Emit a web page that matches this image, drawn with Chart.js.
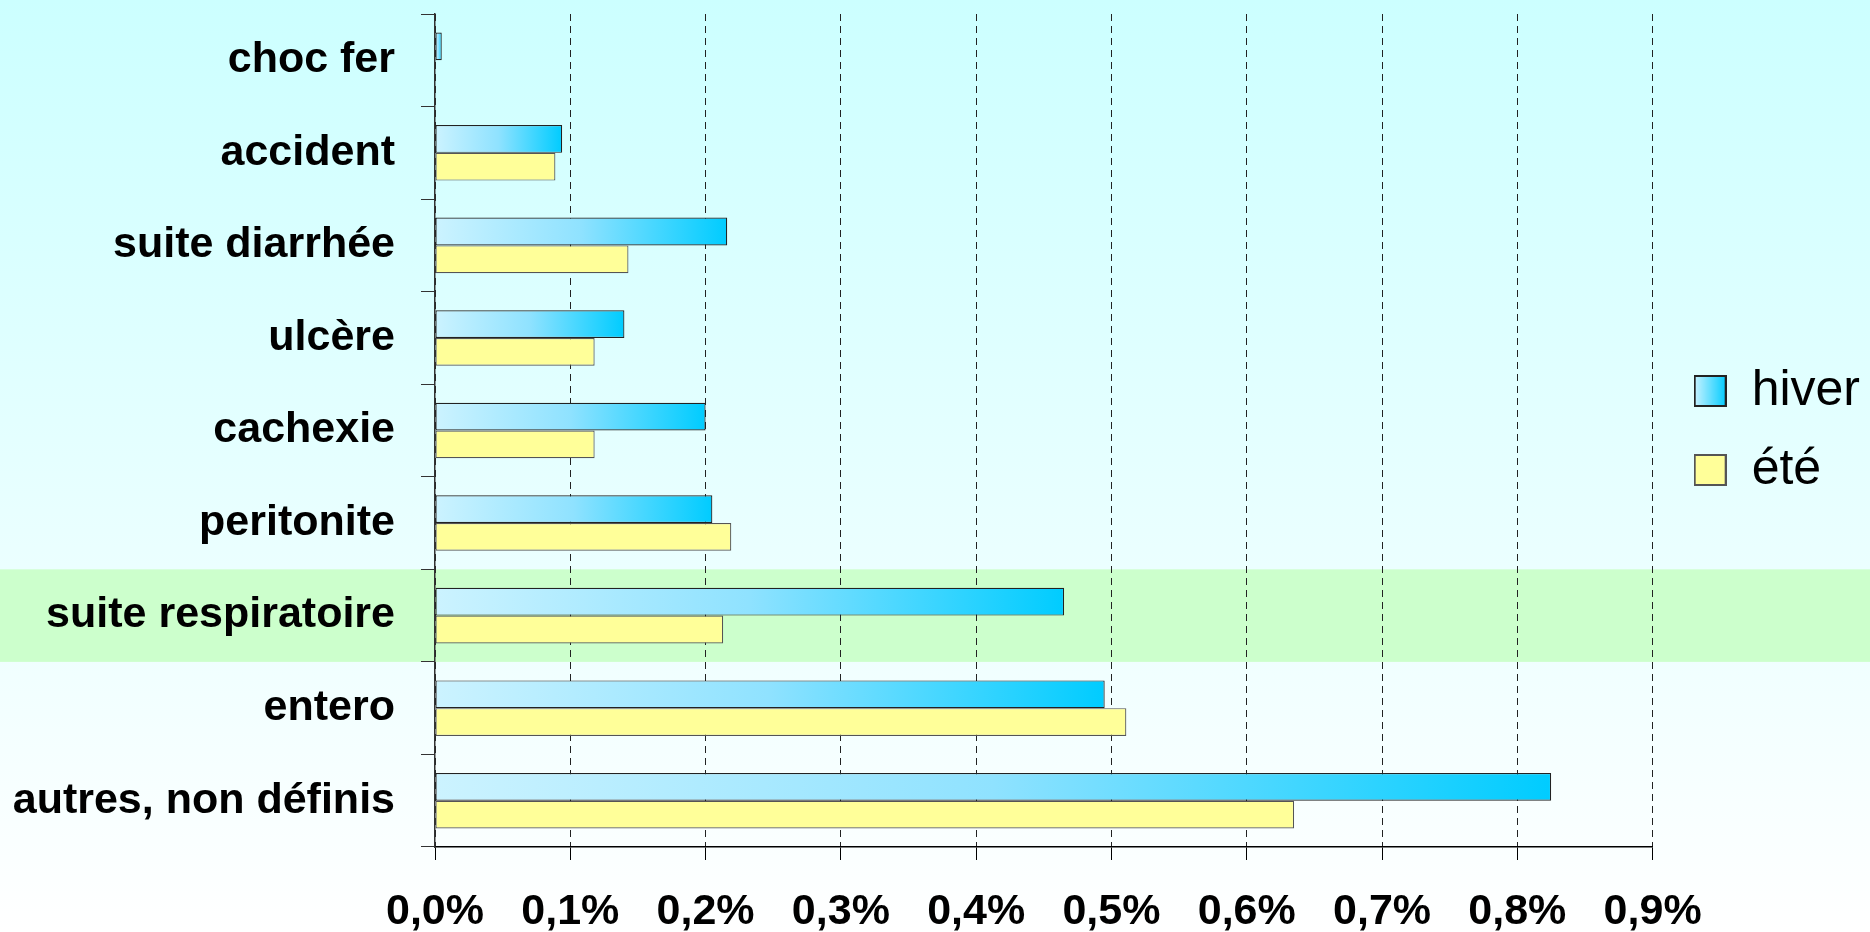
<!DOCTYPE html>
<html lang="fr">
<head>
  <meta charset="UTF-8">
  <script src="https://cdn.jsdelivr.net/npm/chart.js"></script>
  <title>hiver / été</title>
  <style>
    html, body { margin: 0; padding: 0; }
    .wrap { width: 1870px; height: 932px; position: relative; }
  </style>
</head>
<body>

<div class="wrap">
  <canvas id="barChart"></canvas>
</div>

<script>
  // données (en %)
  const categories = ['choc fer', 'accident', 'suite diarrhée', 'ulcère', 'cachexie',
                      'peritonite', 'suite respiratoire', 'entero', 'autres, non définis'];
  const hiver = [0.005, 0.094, 0.216, 0.140, 0.200, 0.205, 0.465, 0.495, 0.825];
  const ete   = [0.000, 0.089, 0.143, 0.118, 0.118, 0.219, 0.213, 0.511, 0.635];
  const xTickLabels = ['0,0%', '0,1%', '0,2%', '0,3%', '0,4%', '0,5%', '0,6%', '0,7%', '0,8%', '0,9%'];
  const highlighted = 'suite respiratoire';

  const FONT = "'Liberation Sans', Arial, sans-serif";

  function hiverFill(ctx) {
    const chart = ctx.chart;
    const x = chart.scales && chart.scales.x;
    if (ctx.type !== 'data' || !x) return '#66DDFF';
    const x0 = x.getPixelForValue(0);
    const x1 = x.getPixelForValue(ctx.parsed.x);
    if (!isFinite(x0) || !isFinite(x1)) return '#66DDFF';
    const g = chart.ctx.createLinearGradient(x0, 0, Math.max(x1, x0 + 1), 0);
    g.addColorStop(0, '#CCF3FF');
    g.addColorStop(0.5, '#8FE2FF');
    g.addColorStop(1, '#00CCFF');
    return g;
  }

  // petites images pour les carrés de la légende
  function legendSquare(fill, stroke) {
    const c = document.createElement('canvas');
    c.width = 33; c.height = 32;
    const k = c.getContext('2d');
    if (fill === 'grad') {
      const g = k.createLinearGradient(0, 0, 33, 0);
      g.addColorStop(0, '#CCF3FF');
      g.addColorStop(1, '#00CCFF');
      k.fillStyle = g;
    } else {
      k.fillStyle = fill;
    }
    k.fillRect(0, 0, 33, 32);
    k.strokeStyle = stroke;
    k.lineWidth = 2;
    k.strokeRect(1, 1, 31, 30);
    return c;
  }
  const legendImages = [legendSquare('grad', '#222'), legendSquare('#FFFF99', '#555')];

  const fondPlugin = {
    id: 'fond',
    beforeDraw(chart) {
      const { ctx, width, height } = chart;
      const g = ctx.createLinearGradient(0, 0, 0, height);
      g.addColorStop(0, '#CCFFFF');
      g.addColorStop(1, '#FFFFFF');
      ctx.save();
      ctx.fillStyle = g;
      ctx.fillRect(0, 0, width, height);
      const y = chart.scales.y;
      const i = categories.indexOf(highlighted);
      const half = (y.getPixelForValue(1) - y.getPixelForValue(0)) / 2;
      const yc = y.getPixelForValue(i);
      ctx.fillStyle = '#CCFFCC';
      ctx.fillRect(0, yc - half, width, half * 2);
      ctx.restore();
    }
  };

  const chart = new Chart(document.getElementById('barChart'), {
    type: 'bar',
    data: {
      labels: categories,
      datasets: [{
        label: 'hiver',
        data: hiver,
        backgroundColor: hiverFill,
        borderColor: '#222',
        borderWidth: 1.2,
        borderSkipped: false,
        categoryPercentage: 0.6,
        barPercentage: 1.0
      }, {
        label: 'été',
        data: ete,
        backgroundColor: '#FFFF99',
        borderColor: '#555',
        borderWidth: 1.2,
        borderSkipped: false,
        categoryPercentage: 0.6,
        barPercentage: 1.0
      }]
    },
    options: {
      indexAxis: 'y',
      responsive: true,
      maintainAspectRatio: false,
      animation: false,
      layout: { padding: { top: 14, left: 0, right: 0, bottom: 0 } },
      scales: {
        x: {
          type: 'linear',
          min: 0,
          max: 0.9,
          afterFit(axis) { axis.height = 85; },
          ticks: {
            stepSize: 0.1,
            callback: (v, i) => xTickLabels[i],
            color: '#000',
            padding: 26,
            maxRotation: 0,
            font: { family: FONT, size: 43, weight: 'bold' }
          },
          grid: { color: '#222', lineWidth: 1, tickColor: '#000', tickLength: 13 },
          border: { color: '#000', width: 1.5, dash: [7, 5] }
        },
        y: {
          afterFit(axis) {
            axis.width = 435;
            axis.paddingTop = 0;
            axis.paddingBottom = 0;
          },
          ticks: {
            color: '#000',
            padding: 26,
            font: { family: FONT, size: 43, weight: 'bold' }
          },
          grid: { drawOnChartArea: false, tickLength: 14, tickColor: '#333' },
          border: { color: '#333', width: 1.5 }
        },
        // espace vide entre la zone du graphique et la légende
        espace: {
          type: 'category',
          position: 'right',
          labels: categories,
          afterFit(axis) {
            axis.width = 12;
            axis.paddingTop = 0;
            axis.paddingBottom = 0;
          },
          ticks: { display: false },
          grid: { display: false, drawTicks: false },
          border: { display: false }
        }
      },
      plugins: {
        tooltip: { enabled: false },
        legend: {
          position: 'right',
          fullSize: false,
          align: 'center',
          labels: {
            usePointStyle: true,
            boxWidth: 33,
            boxHeight: 32,
            padding: 29,
            color: '#000',
            font: { family: FONT, size: 50 },
            generateLabels(c) {
              const items = Chart.defaults.plugins.legend.labels.generateLabels(c);
              items.forEach((it, i) => { it.pointStyle = legendImages[i]; });
              return items;
            }
          }
        }
      }
    },
    plugins: [fondPlugin]
  });
</script>

</body>
</html>
